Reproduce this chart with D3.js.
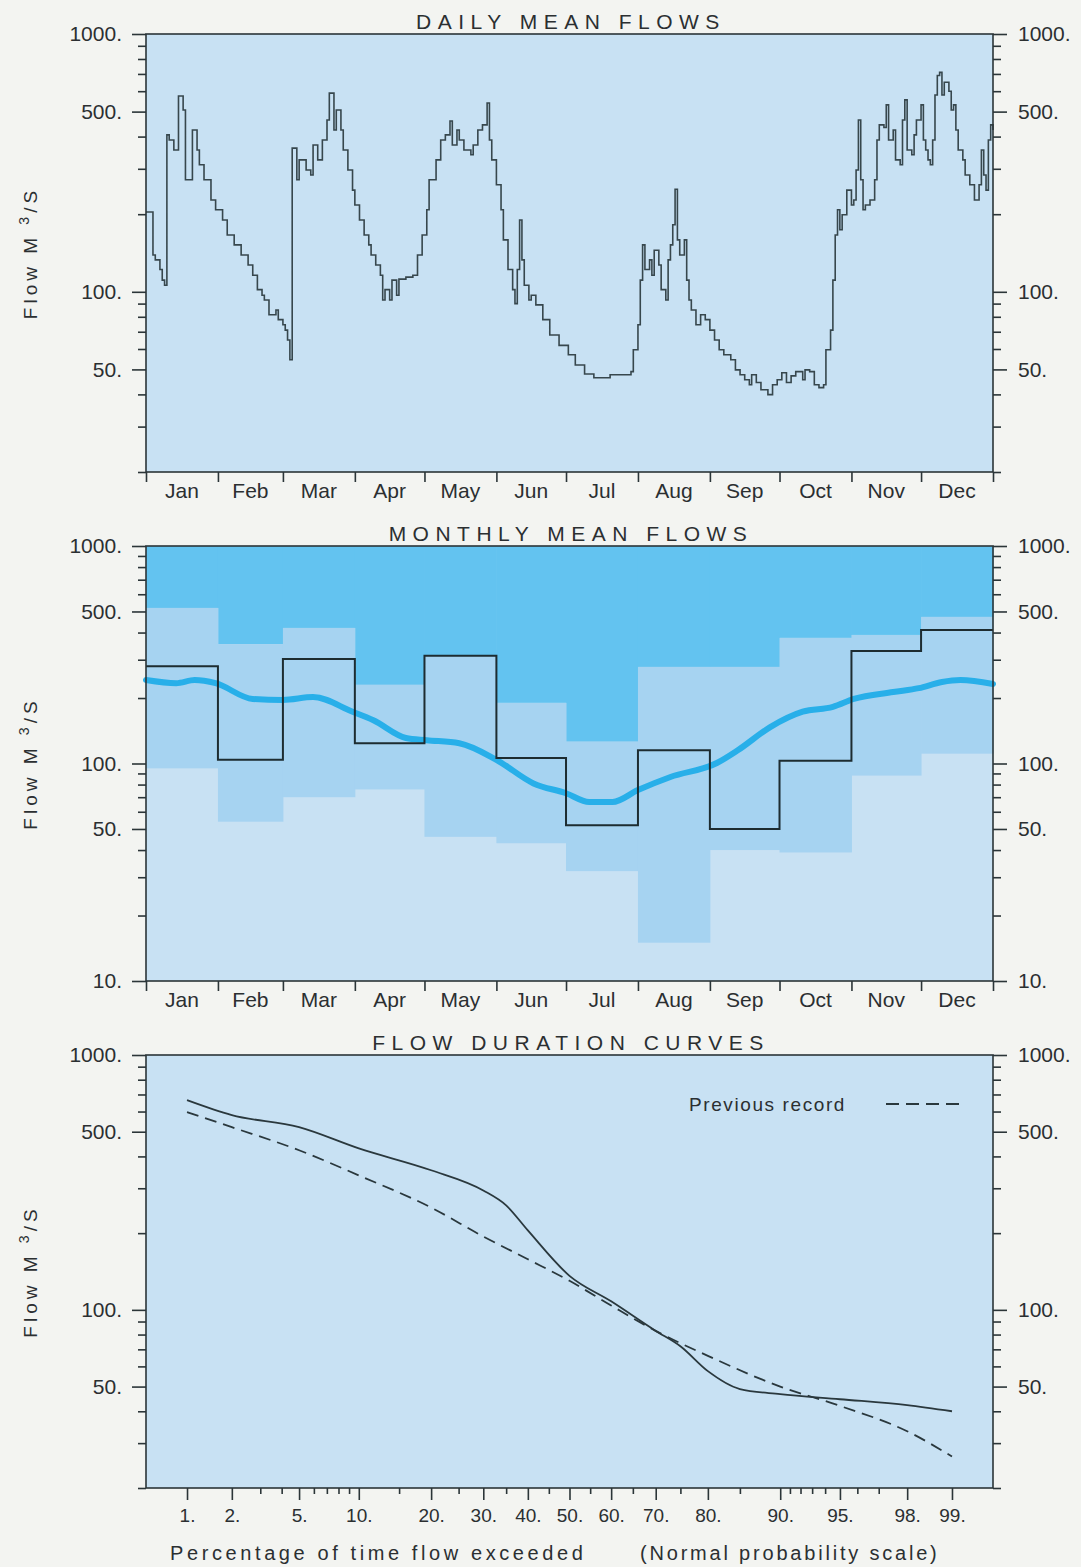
<!DOCTYPE html>
<html>
<head>
<meta charset="utf-8">
<script src="https://cdn.jsdelivr.net/npm/d3@7"></script>
<style>
  body { margin: 0; background: #f3f4f1; }
  svg text { font-family: "Liberation Sans", Arial, sans-serif; fill: #2b2f31; }
</style>
</head>
<body>
<svg id="chart" width="1081" height="1567"></svg>
<script>
// ---------------------------------------------------------------
// Data
// ---------------------------------------------------------------
var monthNames = ['Jan','Feb','Mar','Apr','May','Jun','Jul','Aug','Sep','Oct','Nov','Dec'];
var monthStart = [0,31,59,90,120,151,181,212,243,273,304,334,365];

// daily mean flows of the year (day of year, m3/s)
var dailyDay = [0,3,4,6,7,8,9,10,12,14,16,17,20,22,23,25,28,30,33,35,38,41,44,46,48,50,51,53,56,57,59,60,61,62,
  63,65,66,69,71,72,74,76,78,79,81,82,84,85,87,89,90,92,94,96,97,99,101,102,103,105,106,108,109,112,115,117,119,121,
  122,125,127,129,131,132,134,135,137,140,141,143,145,147,148,149,151,153,154,156,158,159,160,161,162,163,165,166,168,
  171,174,178,182,185,189,193,200,204,209,210,212,213,214,215,217,218,219,221,222,224,225,226,227,228,229,230,232,233,
  234,235,237,239,241,243,245,247,249,252,254,256,258,260,261,263,265,268,270,272,274,276,278,280,283,284,286,288,290,
  292,293,295,296,297,298,299,300,302,304,305,306,307,308,309,310,312,314,315,316,318,319,320,322,323,325,326,327,328,
  330,331,332,334,335,336,337,338,339,340,341,342,343,344,346,347,348,349,350,352,353,355,357,359,360,361,362,363,364,365];
var dailyFlow = [204,139,133,122,111,106,406,388,355,575,507,272,424,355,311,272,227,208,190,166,152,139,127,116,102,97,93,81.5,
  85,78,74.5,71,65,54.5,
  361,272,325,297,284,371,325,388,464,590,424,507,424,355,297,248,217,190,166,152,139,127,116,93,102,93,111,97,112,114,116,139,166,208,
  272,325,388,406,460,371,424,388,355,340,371,424,444,540,388,325,260,208,159,122,102,90,122,190,133,106,93,97,89,
  78,68,62,57,52,48,46.4,47.7,47.7,49,59.6,74.5,111,152,122,133,116,145,127,102,93,133,152,182,250,159,139,159,111,
  93,85,74.5,81.5,78,71,65,59.6,57,54.5,49.8,47.7,45.6,43.6,47.7,44.5,41.7,39.9,43.6,45.6,48.5,44.5,47.2,49,45.6,49.8,49,43.6,42.5,
  43.6,59.6,71,111,166,208,174,199,248,217,227,297,464,272,208,217,227,272,388,444,434,531,388,424,325,311,464,555,355,
  340,406,464,531,388,355,325,311,388,580,690,710,580,650,600,507,531,424,355,325,284,260,227,260,355,284,248,388,444,424];

// monthly mean flows: this year, period-of-record maximum and minimum
var monthlyMean = [280,104,302,124,313,106,52,115,50,103,329,411];
var monthlyMax  = [519,354,420,230,313,190,126,278,278,378,390,472];
var monthlyMin  = [95,54,70,76,46,43,32,15,40,39,88,111];

// long-term mean daily flow (smoothed), day of year vs m3/s
var meanDay  = [0,13,21,30,46,59,72,89,98,112,121,135,151,167,181,191,201,212,226,246,255,269,283,296,305,322,333,343,351,365];
var meanFlow = [242,234,242,234,198,196,202,173,158,131,128,124,104,81,73,66.5,66.5,75.5,86.7,100.5,115,147,173,182,198,213,222,237,242,232];

// flow duration curves (percent of time exceeded vs m3/s)
var durPct   = [1,2,5,10,20,30,35,40,50,60,70,75,80,85,90,95,98,99];
var durFlow  = [665,581,521,430,353,294,257,205,136,108,82.7,72,57.5,48.9,46.7,44.6,42.3,40];
var prevPct  = [1,2,5,10,20,30,40,50,60,70,80,90,95,98,99];
var prevFlow = [597,521,423,337,252,194,158,130,104,82.7,66,50,42,33.4,26.6];

var pctMajor = [1,2,5,10,20,30,40,50,60,70,80,90,95,98,99];
var pctMinor = [3,4,6,7,8,9,15,25,35,45,55,65,75,85,91,92,93,94,96,97];

// ---------------------------------------------------------------
// Layout
// ---------------------------------------------------------------
var svg = d3.select('#chart');
var left = 146, right = 993;
var bgColor = '#c8e1f3';
var axisColor = '#2b3538';

var xDay = d3.scaleLinear().domain([0, 365]).range([left, right]);

// inverse normal CDF (Acklam) for the probability axis
function probit(p) {
  var a = [-39.69683028665376, 220.9460984245205, -275.9285104469687, 138.3577518672690, -30.66479806614716, 2.506628277459239],
      b = [-54.47609879822406, 161.5858368580409, -155.6989798598866, 66.80131188771972, -13.28068155288572],
      c = [-0.007784894002430293, -0.3223964580411365, -2.400758277161838, -2.549732539343734, 4.374664141464968, 2.938163982698783],
      d = [0.007784695709041462, 0.3224671290700398, 2.445134137142996, 3.754408661907416];
  var q, r;
  if (p < 0.02425) {
    q = Math.sqrt(-2 * Math.log(p));
    return (((((c[0]*q+c[1])*q+c[2])*q+c[3])*q+c[4])*q+c[5]) / ((((d[0]*q+d[1])*q+d[2])*q+d[3])*q+1);
  } else if (p > 1 - 0.02425) {
    q = Math.sqrt(-2 * Math.log(1 - p));
    return -(((((c[0]*q+c[1])*q+c[2])*q+c[3])*q+c[4])*q+c[5]) / ((((d[0]*q+d[1])*q+d[2])*q+d[3])*q+1);
  }
  q = p - 0.5; r = q * q;
  return (((((a[0]*r+a[1])*r+a[2])*r+a[3])*r+a[4])*r+a[5])*q / (((((b[0]*r+b[1])*r+b[2])*r+b[3])*r+b[4])*r+1);
}
var xZ = d3.scaleLinear().domain([probit(0.005), probit(0.995)]).range([left, right]);
function xPct(p) { return xZ(probit(p / 100)); }

function minorLogTicks(lo, hi) {
  var out = [];
  for (var e = 1; e <= 3; e++) {
    for (var m = 1; m <= 9; m++) {
      var v = m * Math.pow(10, e);
      if (v >= lo && v <= hi) out.push(v);
    }
  }
  return out;
}

function yAxes(g, y, majors, lo, hi) {
  var minors = minorLogTicks(lo, hi).filter(function (v) { return majors.indexOf(v) < 0; });
  [[d3.axisLeft, 0], [d3.axisRight, right - left]].forEach(function (a) {
    var gm = g.append('g').attr('transform', 'translate(' + (left + a[1]) + ',0)');
    gm.call(a[0](y).tickValues(minors).tickSize(8).tickFormat(''));
    var gM = g.append('g').attr('transform', 'translate(' + (left + a[1]) + ',0)');
    gM.call(a[0](y).tickValues(majors).tickSize(14).tickPadding(a[1] ? 11 : 10)
      .tickFormat(function (d) { return d + '.'; }));
    [gm, gM].forEach(function (s) {
      s.select('.domain').remove();
      s.selectAll('line').attr('stroke', axisColor).attr('stroke-width', 1.6);
      s.selectAll('text').attr('font-size', 21).attr('fill', '#2b2f31')
        .style('font-family', '"Liberation Sans", Arial, sans-serif');
    });
  });
}

function frame(g, top, bottom) {
  g.append('rect').attr('x', left).attr('y', top).attr('width', right - left).attr('height', bottom - top)
    .attr('fill', 'none').attr('stroke', axisColor).attr('stroke-width', 1.6);
}

function title(text, y) {
  svg.append('text').attr('x', 571).attr('y', y).attr('text-anchor', 'middle')
    .attr('font-size', 21).attr('letter-spacing', 6.5).attr('fill', '#2b2f31').text(text);
}

function yLabel(cy, color) {
  var t = svg.append('text').attr('transform', 'translate(37,' + cy + ') rotate(-90)')
    .attr('text-anchor', 'middle').attr('font-size', 19).attr('letter-spacing', 4).attr('fill', color);
  t.append('tspan').text('Flow M ');
  t.append('tspan').attr('font-size', 14).attr('dy', -8).text('3');
  t.append('tspan').attr('dy', 8).text('/S');
}

function monthAxis(g, bottom, labelY) {
  var ga = g.append('g').attr('transform', 'translate(0,' + bottom + ')')
    .call(d3.axisBottom(xDay).tickValues(monthStart).tickSize(10).tickFormat(''));
  ga.select('.domain').remove();
  ga.selectAll('line').attr('stroke', axisColor).attr('stroke-width', 1.6);
  g.selectAll('.mlab').data(monthNames).enter().append('text')
    .attr('class', 'mlab')
    .attr('x', function (d, i) { return xDay((monthStart[i] + monthStart[i + 1]) / 2); })
    .attr('y', labelY).attr('text-anchor', 'middle').attr('font-size', 21)
    .text(function (d) { return d; });
}

// ---------------------------------------------------------------
// Panel 1: daily mean flows
// ---------------------------------------------------------------
(function () {
  var top = 34, bottom = 472;
  var y = d3.scaleLog().domain([20, 1000]).range([bottom, top]);
  var g = svg.append('g');
  g.append('rect').attr('x', left).attr('y', top).attr('width', right - left).attr('height', bottom - top).attr('fill', bgColor);

  var pts = dailyDay.map(function (d, i) { return [d, dailyFlow[i]]; });
  g.append('path').datum(pts)
    .attr('fill', 'none').attr('stroke', '#37474d').attr('stroke-width', 1.6)
    .attr('d', d3.line().x(function (d) { return xDay(d[0]); }).y(function (d) { return y(d[1]); }).curve(d3.curveStepAfter));

  frame(g, top, bottom);
  yAxes(g, y, [1000, 500, 100, 50], 20, 1000);
  monthAxis(g, bottom, 498);
  title('DAILY MEAN FLOWS', 29);
  yLabel((top + bottom) / 2, '#33393b');
})();

// ---------------------------------------------------------------
// Panel 2: monthly mean flows
// ---------------------------------------------------------------
(function () {
  var top = 546, bottom = 981;
  var y = d3.scaleLog().domain([10, 1000]).range([bottom, top]);
  var g = svg.append('g');
  g.append('rect').attr('x', left).attr('y', top).attr('width', right - left).attr('height', bottom - top).attr('fill', bgColor);

  // above the record maximum
  g.selectAll('.above').data(monthlyMax).enter().append('rect')
    .attr('x', function (d, i) { return xDay(monthStart[i]); })
    .attr('width', function (d, i) { return xDay(monthStart[i + 1]) - xDay(monthStart[i]) + 0.5; })
    .attr('y', top).attr('height', function (d) { return y(d) - top; })
    .attr('fill', '#63c3f0');
  // between record minimum and maximum
  g.selectAll('.range').data(monthlyMax).enter().append('rect')
    .attr('x', function (d, i) { return xDay(monthStart[i]); })
    .attr('width', function (d, i) { return xDay(monthStart[i + 1]) - xDay(monthStart[i]) + 0.5; })
    .attr('y', function (d) { return y(d); })
    .attr('height', function (d, i) { return y(monthlyMin[i]) - y(d); })
    .attr('fill', '#a6d3f1');

  // long-term mean
  var mpts = meanDay.map(function (d, i) { return [d, meanFlow[i]]; });
  g.append('path').datum(mpts)
    .attr('fill', 'none').attr('stroke', '#28afe9').attr('stroke-width', 6).attr('stroke-linecap', 'round')
    .attr('d', d3.line().x(function (d) { return xDay(d[0]); }).y(function (d) { return y(d[1]); }).curve(d3.curveMonotoneX));

  // this year's monthly means
  var spts = monthlyMean.map(function (v, i) { return [monthStart[i], v]; });
  spts.push([365, monthlyMean[11]]);
  g.append('path').datum(spts)
    .attr('fill', 'none').attr('stroke', '#1d2c31').attr('stroke-width', 2)
    .attr('d', d3.line().x(function (d) { return xDay(d[0]); }).y(function (d) { return y(d[1]); }).curve(d3.curveStepAfter));

  frame(g, top, bottom);
  yAxes(g, y, [1000, 500, 100, 50, 10], 10, 1000);
  monthAxis(g, bottom, 1007);
  title('MONTHLY MEAN FLOWS', 541);
  yLabel((top + bottom) / 2, '#2f5a45');
})();

// ---------------------------------------------------------------
// Panel 3: flow duration curves
// ---------------------------------------------------------------
(function () {
  var top = 1055, bottom = 1488;
  var y = d3.scaleLog().domain([20, 1000]).range([bottom, top]);
  var g = svg.append('g');
  g.append('rect').attr('x', left).attr('y', top).attr('width', right - left).attr('height', bottom - top).attr('fill', bgColor);

  var line = d3.line().x(function (d) { return xPct(d[0]); }).y(function (d) { return y(d[1]); }).curve(d3.curveMonotoneX);
  g.append('path').datum(prevPct.map(function (p, i) { return [p, prevFlow[i]]; }))
    .attr('fill', 'none').attr('stroke', '#2a383d').attr('stroke-width', 1.8).attr('stroke-dasharray', '12,7')
    .attr('d', line);
  g.append('path').datum(durPct.map(function (p, i) { return [p, durFlow[i]]; }))
    .attr('fill', 'none').attr('stroke', '#2a383d').attr('stroke-width', 1.8)
    .attr('d', line);

  // legend
  g.append('text').attr('x', 846).attr('y', 1111).attr('text-anchor', 'end')
    .attr('font-size', 19).attr('letter-spacing', 1.6).text('Previous record');
  g.append('line').attr('x1', 886).attr('x2', 963).attr('y1', 1104).attr('y2', 1104)
    .attr('stroke', '#2a383d').attr('stroke-width', 1.8).attr('stroke-dasharray', '13,7');

  frame(g, top, bottom);
  yAxes(g, y, [1000, 500, 100, 50], 20, 1000);

  var gx = g.append('g').attr('transform', 'translate(0,' + bottom + ')');
  gx.call(d3.axisBottom(xZ).tickValues(pctMinor.map(function (p) { return probit(p / 100); }))
    .tickSize(6).tickFormat(''));
  var gX = g.append('g').attr('transform', 'translate(0,' + bottom + ')');
  gX.call(d3.axisBottom(xZ).tickValues(pctMajor.map(function (p) { return probit(p / 100); }))
    .tickSize(12).tickPadding(9).tickFormat(function (d, i) { return pctMajor[i] + '.'; }));
  [gx, gX].forEach(function (s) {
    s.select('.domain').remove();
    s.selectAll('line').attr('stroke', axisColor).attr('stroke-width', 1.6);
    s.selectAll('text').attr('font-size', 19).attr('fill', '#2b2f31')
      .style('font-family', '"Liberation Sans", Arial, sans-serif');
  });

  svg.append('text').attr('x', 170).attr('y', 1560).attr('font-size', 20).attr('letter-spacing', 3.6)
    .text('Percentage of time flow exceeded');
  svg.append('text').attr('x', 640).attr('y', 1560).attr('font-size', 20).attr('letter-spacing', 2.8)
    .text('(Normal probability scale)');

  title('FLOW DURATION CURVES', 1050);
  yLabel((top + bottom) / 2, '#33393b');
})();
</script>
</body>
</html>
